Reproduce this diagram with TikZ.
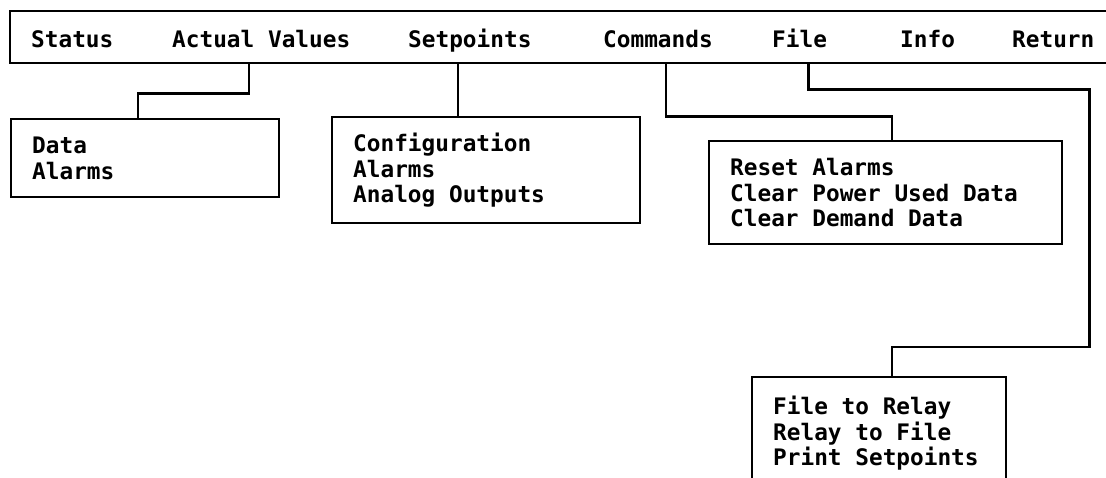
\documentclass[tikz,border=0pt]{standalone}
\usepackage{fontspec}
\setmonofont{DejaVu Sans Mono}
\usepackage{tikz}
\usetikzlibrary{calc,positioning}

\begin{document}
\begin{tikzpicture}[x=1pt,y=-1pt,line width=2.4pt,
font=\ttfamily\bfseries\fontsize{22.75pt}{25.5pt}\selectfont]
\tikzstyle{item}=[anchor=base west,inner sep=0pt]
\tikzstyle{menubox}=[draw,anchor=north west,inner xsep=21pt,inner ysep=0pt,align=flush left]

\useasboundingbox (0,0) rectangle (1106,478);

\node[draw,anchor=north west,minimum width=1130pt,minimum height=52pt,inner sep=0pt] (menubar) at (9,10) {};
\node[item] (status)    at (30,48)   {Status};
\node[item] (actual)    at (171,48)  {Actual Values};
\node[item] (setpoints) at (407,48)  {Setpoints};
\node[item] (commands)  at (602,48)  {Commands};
\node[item] (file)      at (771,48)  {File};
\node[item] (info)      at (899,48)  {Info};
\node[item] (return)    at (1011,48) {Return};

\node[menubox,minimum width=268pt,minimum height=78pt,text width=226pt] (databox) at (10,118) {Data\\Alarms};
\node[menubox,minimum width=308pt,minimum height=106pt,text width=266pt] (cfgbox) at (331,116) {Configuration\\Alarms\\Analog Outputs};
\node[menubox,minimum width=353pt,minimum height=103pt,text width=311pt] (cmdbox) at (708,140) {Reset Alarms\\Clear Power Used Data\\Clear Demand Data};
\node[menubox,minimum width=254pt,minimum height=112pt,text width=212pt] (filebox) at (751,376) {File to Relay\\Relay to File\\Print Setpoints};

\draw ($(actual.south |- menubar.south)+(-12,0)$) -- ++(0,29) -| ($(databox.north)+(-7,0)$);
\draw ($(setpoints.south |- menubar.south)+(-12,0)$) coordinate (s2) -- (s2 |- cfgbox.north);
\draw ($(commands.south |- menubar.south)+(8,0)$) -- ++(0,52) -| ($(cmdbox.north)+(6,0)$);
\draw ($(file.south |- menubar.south)+(9,0)$) -- ++(0,25) -- ++(281,0) |- ($(filebox.north)+(13,-29)$) -- ($(filebox.north)+(13,0)$);
\end{tikzpicture}
\end{document}
